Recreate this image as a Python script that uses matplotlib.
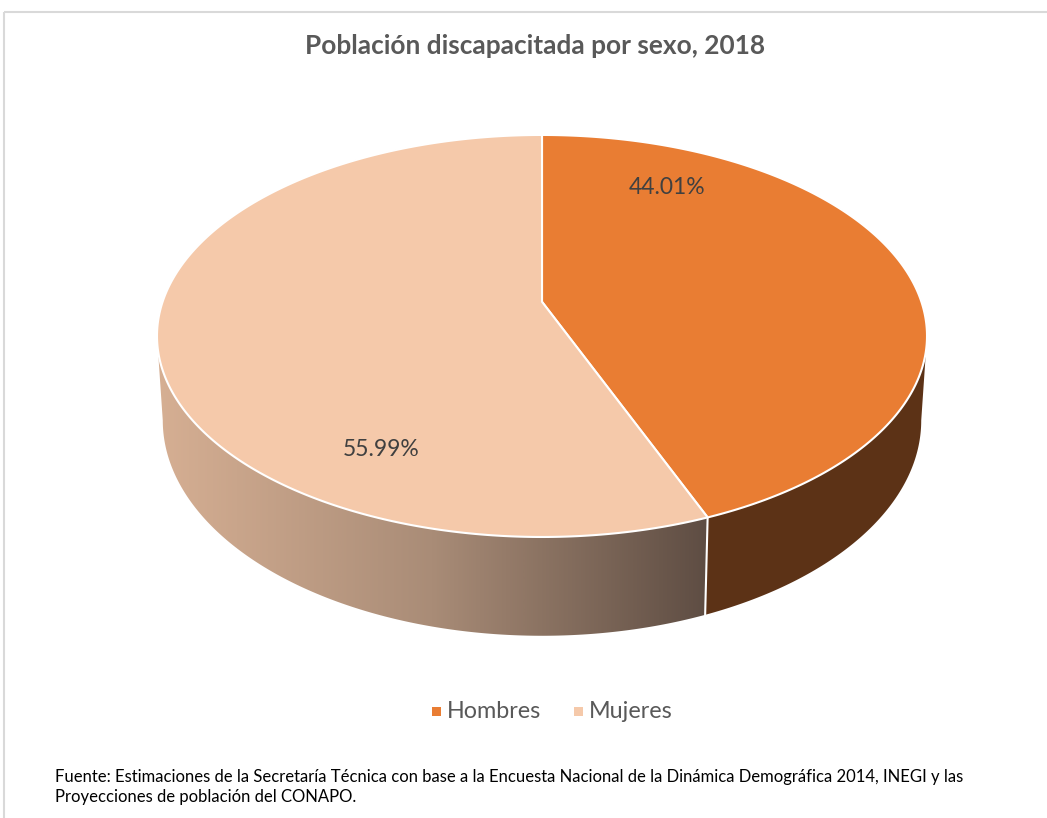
import numpy as np
import matplotlib
matplotlib.use("Agg")
import matplotlib.pyplot as plt
from matplotlib.patches import Polygon, Rectangle
from matplotlib.colors import LinearSegmentedColormap

# ---- data ----
categories = ["Hombres", "Mujeres"]
values = [44.01, 55.99]
title = "Población discapacitada por sexo, 2018"
source = ("Fuente: Estimaciones de la Secretaría Técnica con base a la Encuesta Nacional de la Dinámica Demográfica 2014, INEGI y las\n"
          "Proyecciones de población del CONAPO.")

top_colors = ["#E97D33", "#F5C9AA"]
side_colors = ["#5C3216", None]
grad_colors = ["#D6AF93", "#A98C77", "#5E4D43"]

W, H = 1047, 818
fig = plt.figure(figsize=(W / 100, H / 100), dpi=100)
ax = fig.add_axes([0, 0, 1, 1])
ax.set_xlim(0, W)
ax.set_ylim(H, 0)
ax.axis("off")

# frame
ax.plot([4, W + 5], [12, 12], color="#D9D9D9", lw=1.5, solid_capstyle="butt")
ax.plot([4, 4], [12, H + 5], color="#D9D9D9", lw=1.5, solid_capstyle="butt")

# perspective pie geometry (projective map of a circle)
cx, cy, A, B, p = 542, 301.8, 379.4, 195.2, 0.17
D = 82.0          # wall height factor
shrink = 0.985    # bottom face slightly narrower

def pt(t_deg, bottom=False):
    t = np.radians(t_deg)
    u, v = np.cos(t), np.sin(t)
    w = 1 + p * v
    x = A * u / w
    y = cy + B * (-v) / w
    if bottom:
        x *= shrink
        y += D / w
    return cx + x, y

total = sum(values)
angles = [90.0]
for v in values:
    angles.append(angles[-1] - v / total * 360.0)
segments = [(angles[i], angles[i + 1]) for i in range(len(values))]

phi = np.degrees(np.arcsin(p))   # silhouette offset

def side_poly(t_hi, t_lo):
    ts = np.linspace(t_hi, t_lo, 200)
    top = [pt(t) for t in ts]
    bot = [pt(t, True) for t in ts[::-1]]
    return np.array(top + bot)

# Hombres wall: from right silhouette down to division
h0, h1 = segments[0]
h_side = side_poly(-phi, h1)
ax.add_patch(Polygon(h_side, closed=True, facecolor=side_colors[0], edgecolor="none", zorder=2))

# Mujeres wall: from division round to left silhouette
m_hi = h1 + 360.0
m_side = side_poly(m_hi, 180.0 + phi)
pm = Polygon(m_side, closed=True, facecolor="none", edgecolor="none", zorder=2)
ax.add_patch(pm)
cmap = LinearSegmentedColormap.from_list("g", grad_colors)
grad = np.linspace(0, 1, 512).reshape(1, -1)
x_left, x_right = m_side[:, 0].min(), m_side[:, 0].max()
im = ax.imshow(grad, cmap=cmap, extent=(x_left, x_right, 700, 300),
               aspect="auto", zorder=2, interpolation="bilinear")
im.set_clip_path(pm)
ax.set_xlim(0, W)
ax.set_ylim(H, 0)

# white dividing line on the wall
x0, y0 = pt(h1)
x1, y1 = pt(h1, True)
ax.plot([x0, x1], [y0, y1], color="white", lw=1.5, zorder=3)

# ---- top faces ----
center = (cx, cy)  # projective image of circle centre
for i, (t0, t1) in enumerate(segments):
    ts = np.linspace(t0, t1, 400)
    verts = [center] + [pt(t) for t in ts]
    ax.add_patch(Polygon(verts, closed=True, facecolor=top_colors[i], edgecolor="white",
                         lw=1.5, joinstyle="round", zorder=4))

# ---- labels ----
ax.text(667, 188, f"{values[0]:.2f}%", ha="center", va="center", fontsize=16.5,
        color="#404040", family="Lato", zorder=5)
ax.text(381, 449, f"{values[1]:.2f}%", ha="center", va="center", fontsize=16.5,
        color="#404040", family="Lato", zorder=5)

# title
ax.text(535, 46, title, ha="center", va="center", fontsize=18.9, fontweight="bold",
        color="#595959", family="Lato")

# legend
leg_x = [432, 574]
for i, c in enumerate(categories):
    ax.add_patch(Rectangle((leg_x[i], 707), 9, 9, facecolor=top_colors[i], edgecolor="none"))
    ax.text(leg_x[i] + 15, 711, c, ha="left", va="center", fontsize=16.8, color="#595959",
            family="Lato")

# source
ax.text(55, 787, source, ha="left", va="center", fontsize=11.95, color="#000000",
        family="Lato", linespacing=1.26)

fig.savefig("out.png", dpi=100)
